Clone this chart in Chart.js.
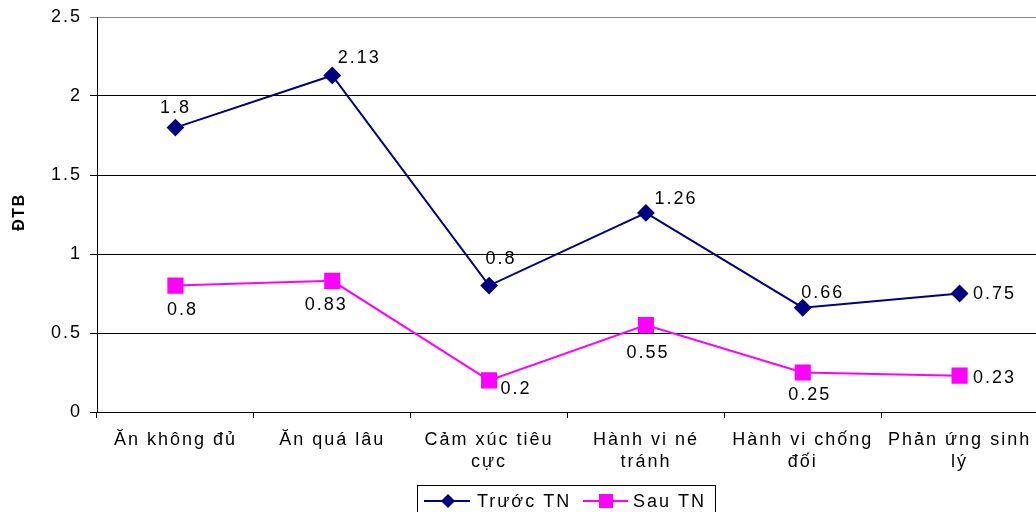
<!DOCTYPE html>
<html>
<head>
<meta charset="utf-8">
<script src="https://cdn.jsdelivr.net/npm/chart.js@4/dist/chart.umd.min.js"></script>
<style>
    body { margin: 0; overflow: hidden; background: #fff; }
    #wrap { width: 1050px; height: 512px; }
</style>
</head>
<body>
<div id="wrap"><canvas id="grafico" width="1050" height="512"></canvas></div>
<script>
// dados do gráfico
const categorias = [
    ['Ăn không đủ'],
    ['Ăn quá lâu'],
    ['Cảm xúc tiêu', 'cực'],
    ['Hành vi né', 'tránh'],
    ['Hành vi chống', 'đối'],
    ['Phản ứng sinh', 'lý']
];
const truocTN = [1.8, 2.13, 0.8, 1.26, 0.66, 0.75];
const sauTN = [0.8, 0.83, 0.2, 0.55, 0.25, 0.23];
const yTicks = [0, 0.5, 1, 1.5, 2, 2.5];
const nomeSeries = ['Trước TN', 'Sau TN'];
const tituloY = 'ĐTB';

const FONTE = 'Arial, "Liberation Sans", sans-serif';
const ESPACO = '2px'; // o texto do original é mais largo que o Arial normal
const AZUL = '#000080';
const ROSA = '#FF00FF';

// deslocamento dos rótulos (dx, dy em px) para cada ponto
const offsetsTruoc = [[0, -20], [27, -17], [12, -27], [30, -14], [20, -15], [35, 1]];
const offsetsSau = [[7, 24], [-6, 24], [27, 9], [2, 28], [7, 23], [35, 2]];

const espacoPlugin = {
    id: 'espaco',
    beforeUpdate(chart) { chart.ctx.letterSpacing = ESPACO; },
    beforeDraw(chart) { chart.ctx.letterSpacing = ESPACO; }
};

const rotulosPlugin = {
    id: 'rotulos',
    afterDatasetsDraw(chart) {
        const ctx = chart.ctx;
        ctx.save();
        ctx.letterSpacing = ESPACO;
        ctx.font = '18px ' + FONTE;
        ctx.fillStyle = '#000';
        ctx.textAlign = 'center';
        ctx.textBaseline = 'middle';
        [offsetsTruoc, offsetsSau].forEach((offs, i) => {
            const meta = chart.getDatasetMeta(i);
            const valores = chart.data.datasets[i].data;
            meta.data.forEach((pt, j) => {
                ctx.fillText(String(valores[j]), pt.x + offs[j][0], pt.y + offs[j][1]);
            });
        });
        ctx.restore();
    }
};

const legendaPlugin = {
    id: 'legendaCaixa',
    afterDraw(chart) {
        const ctx = chart.ctx;
        ctx.save();
        ctx.letterSpacing = ESPACO;
        ctx.strokeStyle = '#000';
        ctx.lineWidth = 1;
        ctx.strokeRect(417.5, 485.5, 298, 32);
        const y = 501;
        // série 1
        ctx.strokeStyle = AZUL;
        ctx.lineWidth = 2;
        ctx.beginPath(); ctx.moveTo(424, y); ctx.lineTo(470, y); ctx.stroke();
        ctx.fillStyle = AZUL;
        ctx.beginPath();
        ctx.moveTo(448, y - 7); ctx.lineTo(455, y); ctx.lineTo(448, y + 7); ctx.lineTo(441, y);
        ctx.closePath(); ctx.fill();
        // série 2
        ctx.strokeStyle = ROSA;
        ctx.beginPath(); ctx.moveTo(583, y); ctx.lineTo(628, y); ctx.stroke();
        ctx.fillStyle = ROSA;
        ctx.fillRect(599, y - 7, 14, 14);
        ctx.fillStyle = '#000';
        ctx.font = '18px ' + FONTE;
        ctx.textBaseline = 'middle';
        ctx.textAlign = 'left';
        ctx.fillText(nomeSeries[0], 477, y + 1);
        ctx.fillText(nomeSeries[1], 633, y + 1);
        // título do eixo Y
        ctx.letterSpacing = '1.5px';
        ctx.font = 'bold 16px ' + FONTE;
        ctx.translate(20, 212);
        ctx.rotate(-Math.PI / 2);
        ctx.textAlign = 'center';
        ctx.fillText(tituloY, 0, 0);
        ctx.restore();
    }
};

const ctx = document.getElementById('grafico').getContext('2d');
new Chart(ctx, {
    type: 'line',
    data: {
        labels: categorias,
        datasets: [
            {
                label: nomeSeries[0],
                data: truocTN,
                borderColor: AZUL,
                backgroundColor: AZUL,
                borderWidth: 2,
                pointStyle: 'rectRot',
                pointRadius: 7.5,
                pointHoverRadius: 7.5,
                tension: 0
            },
            {
                label: nomeSeries[1],
                data: sauTN,
                borderColor: ROSA,
                backgroundColor: ROSA,
                borderWidth: 2,
                pointStyle: 'rect',
                pointRadius: 10,
                pointHoverRadius: 10,
                tension: 0
            }
        ]
    },
    options: {
        responsive: false,
        animation: false,
        layout: { padding: { top: 14, right: 5, left: 0, bottom: 0 } },
        plugins: {
            legend: { display: false },
            tooltip: { enabled: false }
        },
        scales: {
            x: {
                offset: true,
                grid: {
                    offset: true,
                    drawOnChartArea: false,
                    tickLength: 6,
                    color: '#000'
                },
                border: { color: '#000', width: 1 },
                ticks: {
                    color: '#000',
                    font: { family: FONTE, size: 18, lineHeight: 1.22 },
                    padding: 11,
                    maxRotation: 0,
                    autoSkip: false
                },
                afterFit(scale) { scale.height = 100; }
            },
            y: {
                min: 0,
                max: 2.5,
                afterBuildTicks(scale) { scale.ticks = yTicks.map(v => ({ value: v })); },
                grid: {
                    color: (c) => c.tick && c.tick.value === 2.5 ? '#888' : '#000',
                    tickLength: 7
                },
                border: { color: '#000', width: 1 },
                ticks: {
                    color: '#000',
                    font: { family: FONTE, size: 18, lineHeight: 1 },
                    padding: 8,
                    callback: (v) => String(v)
                },
                afterFit(scale) { scale.width = 97; }
            }
        }
    },
    plugins: [espacoPlugin, rotulosPlugin, legendaPlugin]
});
</script>
</body>
</html>
